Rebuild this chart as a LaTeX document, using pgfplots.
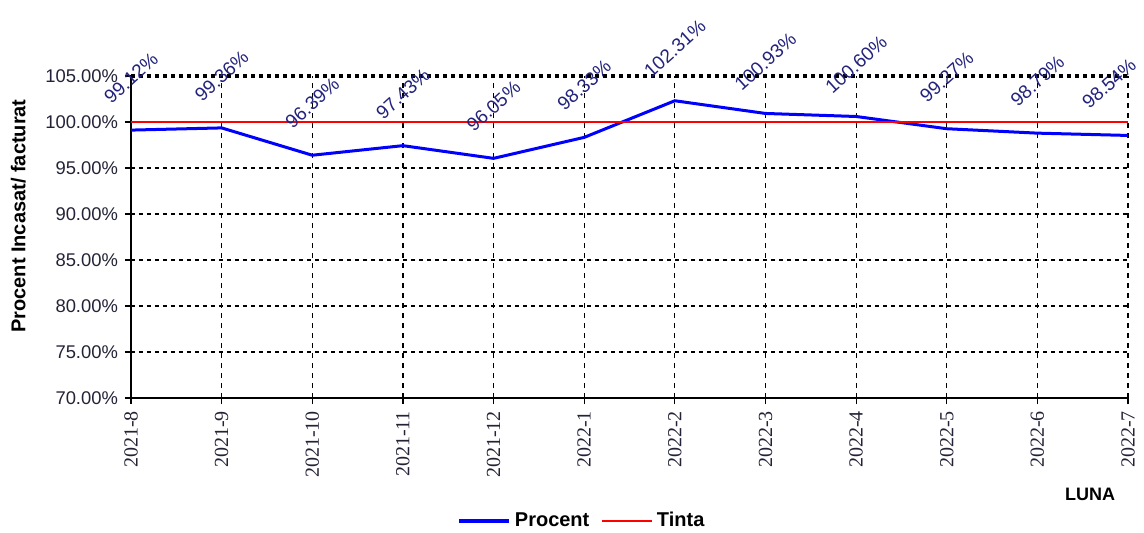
\documentclass[border=0pt]{standalone}
\usepackage{fontspec}
\setmainfont{Liberation Sans}
\newfontfamily\serifx{Liberation Serif}
\usepackage{graphicx}
\usepackage{pgfplots}
\pgfplotsset{compat=1.18}
\definecolor{lblc}{RGB}{35,35,125}
\definecolor{tickc}{RGB}{35,35,55}
\pgfplotsset{
  lbl/.style={draw=none, mark=none, forget plot,
    nodes near coords={\rotatebox{42}{\pgfmathprintnumber[fixed,fixed zerofill,precision=2]{\pgfplotspointmeta}\%}},
    every node near coord/.append style={anchor=center, yshift=26pt, inner sep=0pt, text=lblc, font=\fontsize{9.5}{11}\selectfont}},
}
\begin{document}
\begin{tikzpicture}
\path[use as bounding box] (-65.5pt,-67pt) rectangle (506.5pt,199pt);
\begin{axis}[
  at={(0pt,0pt)}, anchor=south west,
  scale only axis, width=498.5pt, height=161pt,
  xmin=0, xmax=11, ymin=70, ymax=105,
  axis x line*=bottom, axis y line*=left,
  axis line style={line width=0.8pt, -},
  xtick={0,...,11},
  xticklabels={2021-8,2021-9,2021-10,2021-11,2021-12,2022-1,2022-2,2022-3,2022-4,2022-5,2022-6,2022-7},
  xticklabel style={rotate=90, anchor=east, font=\serifx\fontsize{10}{12}\selectfont, text=tickc},
  ytick={70,75,...,105},
  yticklabel={\pgfmathprintnumber[fixed,fixed zerofill,precision=2]{\tick}\%},
  yticklabel style={font=\fontsize{9.2}{11}\selectfont, text=tickc},
  /pgf/number format/assume math mode=true,
  tick align=outside, major tick length=3pt,
  tick style={black, line width=0.6pt},
  grid=major,
  x grid style={black, line width=0.6pt, dash pattern=on 2.5pt off 2.5pt},
  y grid style={black, line width=1pt, dash pattern=on 2pt off 2pt},
  ylabel={Procent Incasat/ facturat},
  ylabel style={at={(axis description cs:-0.113,0.565)}, rotate=0, anchor=center, font=\bfseries\fontsize{10}{12}\selectfont},
  xlabel={LUNA},
  xlabel style={at={(axis description cs:0.962,-0.298)}, anchor=center, font=\bfseries\fontsize{9}{11}\selectfont},
  legend style={at={(axis description cs:0.453,-0.382)}, anchor=center, draw=none, fill=none,
    font=\bfseries\fontsize{10}{12}\selectfont, legend columns=2,
    /tikz/every even column/.append style={column sep=4pt}},
  legend image code/.code={\draw[#1] (0pt,0pt) -- (25pt,0pt);},
  clip=false,
]
\draw[black, line width=1.6pt, dash pattern=on 2pt off 2pt] (axis cs:0,105) -- (axis cs:11,105);
\addplot[blue, line width=1.5pt, mark=none, legend image post style={line width=2pt}] coordinates {
  (0,99.12) (1,99.36) (2,96.39) (3,97.43) (4,96.05) (5,98.33)
  (6,102.31) (7,100.93) (8,100.60) (9,99.27) (10,98.79) (11,98.54)
};
\addlegendentry{Procent}
\addplot[red, line width=0.8pt, mark=none] coordinates {
  (0,100) (1,100) (2,100) (3,100) (4,100) (5,100)
  (6,100) (7,100) (8,100) (9,100) (10,100) (11,100)
};
\addlegendentry{Tinta}
\addplot[lbl] coordinates {
  (0,99.12) (1,99.36) (2,96.39) (3,97.43) (4,96.05) (5,98.33)
  (6,102.31) (7,100.93) (8,100.60) (9,99.27) (10,98.79)
};
\addplot[lbl, every node near coord/.append style={xshift=-9.5pt}] coordinates {
  (11,98.54)
};
\end{axis}
\end{tikzpicture}
\end{document}
